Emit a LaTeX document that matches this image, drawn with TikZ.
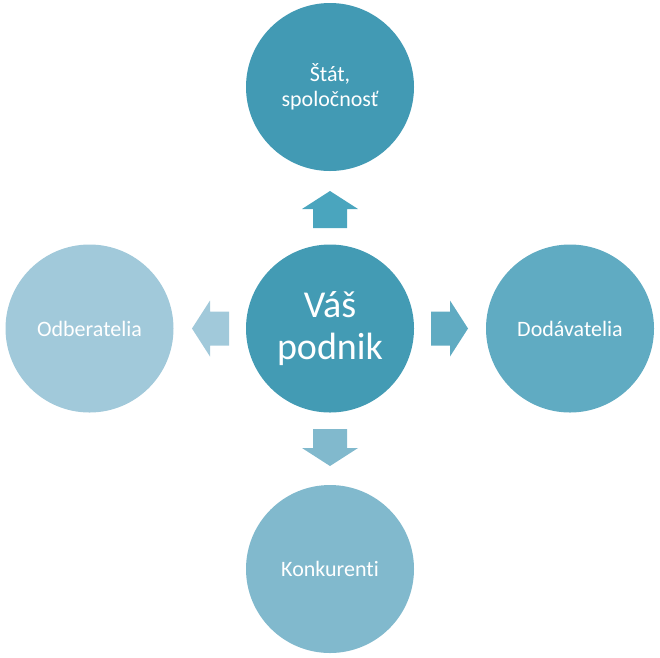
\documentclass[tikz,border=0pt]{standalone}
\usepackage{fontspec}
\setmainfont{Carlito}[Ligatures=NoCommon]
\definecolor{cMain}{RGB}{67,155,180}
\definecolor{cTop}{RGB}{66,154,180}
\definecolor{cUp}{RGB}{74,165,190}
\definecolor{cRight}{RGB}{96,171,194}
\definecolor{cDown}{RGB}{129,185,205}
\definecolor{cLeft}{RGB}{161,201,218}
\begin{document}
\begin{tikzpicture}[x=1pt,y=-1pt,
  bubble/.style={circle,minimum size=168pt,inner sep=0pt,text=white,align=center,font=\fontsize{22}{25}\selectfont},
  pics/blockarrow/.style={code={
    \fill[#1] (0,-17) -- (19,-17) -- (19,-28) -- (37,0) -- (19,28) -- (19,17) -- (0,17) -- cycle;
  }}]
\useasboundingbox (0,0) rectangle (660,657);
\node[bubble,fill=cMain,font=\fontsize{38}{42}\selectfont] (center) at (330,328.5) {Váš\\podnik};
\node[bubble,fill=cTop] (top) at (330,87) {Štát,\\spoločnosť};
\node[bubble,fill=cLeft] (left) at (89.5,328.5) {Odberatelia};
\node[bubble,fill=cRight] (right) at (570,328.5) {Dodávatelia};
\node[bubble,fill=cDown] (bottom) at (330,569) {Konkurenti};
\pic[rotate=90] at (330,228) {blockarrow=cUp};
\pic[rotate=0] at (431,328.5) {blockarrow=cRight};
\pic[rotate=-90] at (330,429) {blockarrow=cDown};
\pic[rotate=180] at (229,328.5) {blockarrow=cLeft};
\end{tikzpicture}
\end{document}
